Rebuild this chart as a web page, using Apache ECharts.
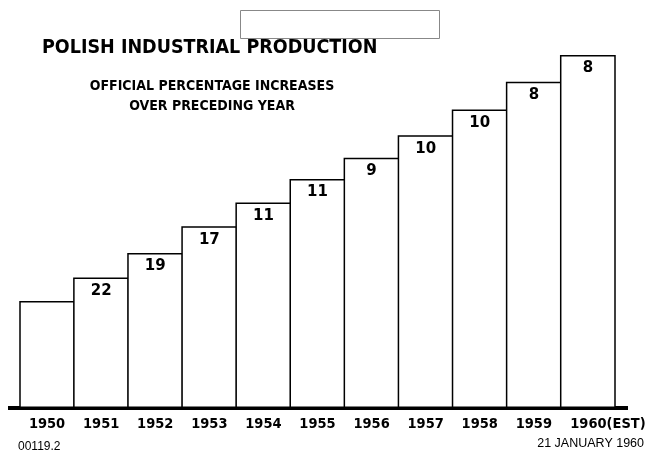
<!DOCTYPE html>
<html><head><meta charset="utf-8">
<script src="https://cdn.jsdelivr.net/npm/echarts@6/dist/echarts.min.js"></script>
<style>html,body{margin:0;padding:0;background:#fff}#c{width:645px;height:452px}</style>
</head><body><div id="c"></div>
<script>
// Data
const years = ['1950','1951','1952','1953','1954','1955','1956','1957','1958','1959','1960(EST)'];
// relative production level (bar heights, 1950 = 100)
const levels = [100, 122, 145, 170, 192, 214, 234, 255, 279, 305, 330];
// official percentage increase over preceding year (bar labels)
const increases = [null, 22, 19, 17, 11, 11, 9, 10, 10, 8, 8];

const FONT = "'DejaVu Sans Condensed','DejaVu Sans',sans-serif";
const chart = echarts.init(document.getElementById('c'), null, {renderer:'canvas'});
const catData = years.map((y,i)=> i===years.length-1 ? {value:y, textStyle:{padding:[0,0,0,40]}} : y);
const option = {
  animation:false,
  backgroundColor:'#fff',
  grid:{left:20, right:30, top:55, bottom:44, containLabel:false, outerBoundsMode:'none'},
  xAxis:{type:'category', data:catData,
    axisLine:{show:true, lineStyle:{color:'#000', width:4}},
    axisTick:{show:false},
    axisLabel:{interval:0, color:'#000', fontFamily:FONT, fontWeight:'bold', fontSize:14.5, margin:9, hideOverlap:false}},
  yAxis:{type:'value', min:0, max:330, show:false, splitLine:{show:false}},
  series:[{type:'bar', data:levels, barWidth:56,
    itemStyle:{color:'#fff', borderColor:'#000', borderWidth:1.5},
    label:{show:true, position:'insideTop', distance:6, color:'#000', fontFamily:"'DejaVu Sans',sans-serif", fontWeight:'bold', fontSize:15,
      formatter:p=> increases[p.dataIndex]==null ? '' : String(increases[p.dataIndex])}}],
  graphic:[
    {type:'rect', shape:{x:240.5,y:10.5,width:199,height:28}, style:{fill:'none', stroke:'#888', lineWidth:1}},
    {type:'text', left:42, top:38, style:{text:'POLISH INDUSTRIAL PRODUCTION', fill:'#000', font:"bold 19.5px "+FONT}},
    {type:'text', x:212, y:79, style:{text:'OFFICIAL PERCENTAGE INCREASES', fill:'#000', font:"bold 14px "+FONT, align:'center'}},
    {type:'text', x:212, y:99, style:{text:'OVER PRECEDING YEAR', fill:'#000', font:"bold 14px "+FONT, align:'center'}},
    {type:'text', left:18, top:441, style:{text:'00119.2', fill:'#000', font:"12px 'Liberation Sans',sans-serif"}},
    {type:'text', right:1, top:437, style:{text:'21 JANUARY 1960', fill:'#000', font:"12.5px 'Liberation Sans',sans-serif"}},
    {type:'line', shape:{x1:8,y1:408,x2:628,y2:408}, style:{stroke:'#000', lineWidth:4}}
  ]
};
chart.setOption(option);
</script></body></html>
